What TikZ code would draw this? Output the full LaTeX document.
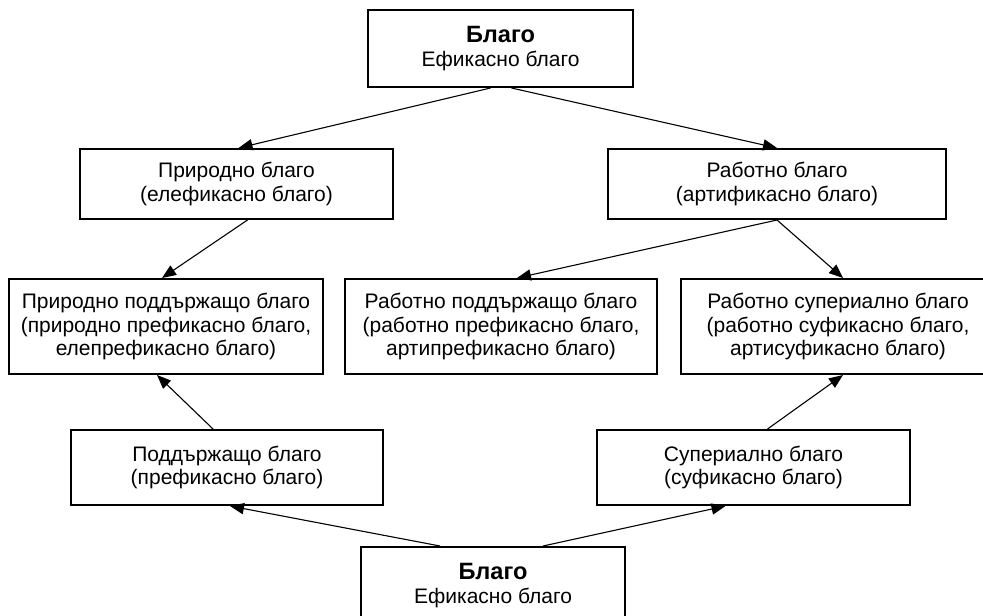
\documentclass[tikz,border=0pt]{standalone}
\usepackage{fontspec}
\setmainfont{Liberation Sans}
\usetikzlibrary{arrows.meta}
\tikzstyle{good}=[draw, line width=1pt, align=center, inner sep=0pt, minimum height=35pt, font=\fontsize{10.5}{11.9}\selectfont]
\newcommand{\good}{\node[good]}
\newcommand{\goodtitle}{{\fontsize{11.8}{11.9}\selectfont\bfseries Благо}}

\begin{document}
\begin{tikzpicture}[x=.5pt, y=-.5pt, every edge/.style={ draw, line width=.55pt, -{Triangle[length=7pt,width=5.6pt]} } ]
\useasboundingbox (0,0) rectangle (983,615);
\good (top) at (500.5,48.5) [minimum width=132.5pt, minimum height=38.5pt] {\goodtitle\\Ефикасно благо};
\good (nat) at (236.5,184) [minimum width=156.5pt] {Природно благо\\(елефикасно благо)};
\good (work) at (777,184) [minimum width=169pt] {Работно благо\\(артификасно благо)};
\good (natsup) at (166,326.5) [minimum width=157pt, minimum height=47.5pt] {Природно поддържащо благо\\(природно префикасно благо,\\елепрефикасно благо)};
\good (worksup) at (501,326.5) [minimum width=156pt, minimum height=47.5pt] {Работно поддържащо благо\\(работно префикасно благо,\\артипрефикасно благо)};
\good (worksuper) at (838,326.5) [minimum width=157pt, minimum height=47.5pt] {Работно супериално благо\\(работно суфикасно благо,\\артисуфикасно благо)};
\good (sup) at (227,467.5) [minimum width=156pt, minimum height=37.5pt] {Поддържащо благо\\(префикасно благо)};
\good (super) at (753.5,467.5) [minimum width=156.5pt, minimum height=37.5pt] {Супериално благо\\(суфикасно благо)};
\good (bot) at (493,585.5) [minimum width=132pt, minimum height=38.5pt] {\goodtitle\\Ефикасно благо};
\path
([xshift=-5pt]top.south) edge ([xshift=1pt]nat.north)
([xshift=5.5pt]top.south) edge (work.north)
([xshift=5.5pt]nat.south) edge ([xshift=-2pt]natsup.north)
(work.south) edge ([xshift=8pt]worksup.north) edge ([xshift=2.5pt]worksuper.north)
([xshift=-7pt]sup.north) edge ([xshift=-4.5pt]natsup.south)
([xshift=7pt]super.north) edge ([xshift=2.5pt]worksuper.south)
([xshift=-26.5pt]bot.north) edge ([xshift=1.5pt]sup.south)
([xshift=25pt]bot.north) edge ([xshift=-14pt]super.south)
;
\end{tikzpicture}
\end{document}
